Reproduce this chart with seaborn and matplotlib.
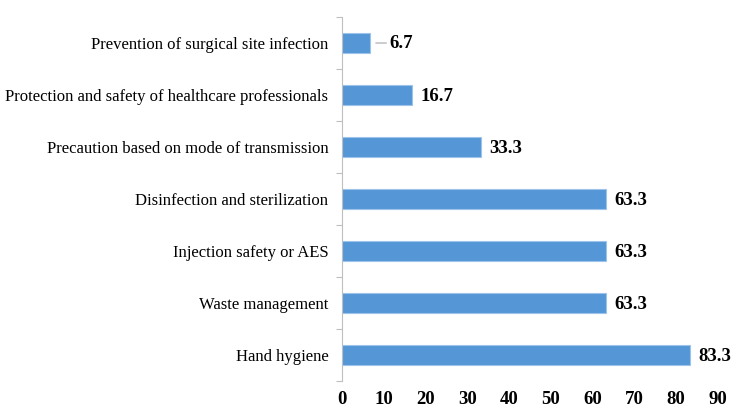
import pandas as pd
import matplotlib.pyplot as plt
import seaborn as sns

# Dati
categories = ['Prevention of surgical site infection',
              'Protection and safety of healthcare professionals',
              'Precaution based on mode of transmission',
              'Disinfection and sterilization',
              'Injection safety or AES',
              'Waste management',
              'Hand hygiene']
values = [6.7, 16.7, 33.3, 63.3, 63.3, 63.3, 83.3]

df = pd.DataFrame({'category': categories, 'value': values})

sns.set_style('white')
plt.rcParams['font.family'] = ['Liberation Serif', 'DejaVu Serif']
plt.rcParams['text.color'] = 'black'
plt.rcParams['xtick.color'] = 'black'
plt.rcParams['ytick.color'] = 'black'

fig = plt.figure(figsize=(7.44, 4.15), dpi=100)
ax = fig.add_axes([0.46, 0.082, 0.505, 0.877])

sns.barplot(data=df, x='value', y='category', orient='h', color='#5596D6',
            saturation=1, width=0.4, edgecolor='#9CC3EA', linewidth=0.8, ax=ax)

# Etichette dei valori
for i, v in enumerate(values):
    if i == 0:
        ax.annotate(f'{v}', xy=(v, i), xytext=(14, 0), textcoords='offset points',
                    va='center', ha='left', fontsize=13.5, fontweight='bold',
                    arrowprops=dict(arrowstyle='-', color='#A6A6A6', lw=0.8, shrinkA=0, shrinkB=4))
    else:
        ax.annotate(f'{v}', xy=(v, i), xytext=(6, -1), textcoords='offset points',
                    va='center', ha='left', fontsize=13.5, fontweight='bold')

ax.set_xlim(0, 90)
ax.set_ylim(6.5, -0.5)
ax.set_xticks(range(0, 91, 10))
ax.set_xlabel('')
ax.set_ylabel('')
for lab in ax.get_xticklabels():
    lab.set_fontweight('bold')
ax.tick_params(axis='x', labelsize=13.5, length=0, pad=7)
ax.tick_params(axis='y', labelsize=12, length=0, pad=10)

# Tacche minori tra le categorie
ax.set_yticks([i + 0.5 for i in range(-1, 7)], minor=True)
ax.tick_params(axis='y', which='minor', left=True, length=4, color='#BFBFBF', width=0.8)

for s in ['top', 'right', 'bottom']:
    ax.spines[s].set_visible(False)
ax.spines['left'].set_color('#BFBFBF')
ax.spines['left'].set_linewidth(0.8)

plt.savefig('out.png', dpi=100)
